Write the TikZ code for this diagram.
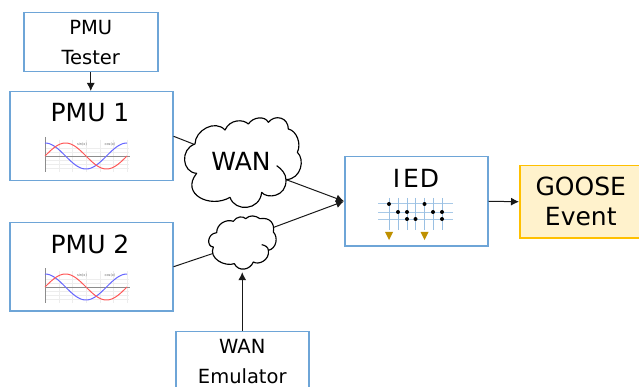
\documentclass[tikz,border=0pt]{standalone}
\usepackage{fontspec}
\setmainfont{DejaVu Sans}
\usetikzlibrary{arrows.meta}
\definecolor{boxblue}{RGB}{110,165,215}
\definecolor{goldb}{RGB}{255,192,0}
\definecolor{goldf}{RGB}{255,242,204}
\definecolor{tri}{RGB}{191,144,0}
\tikzset{
 bx/.style={draw=boxblue,line width=1.5pt,fill=white,inner sep=0pt,align=center},
 ln/.style={draw=black!90,line width=1pt},
 arr/.style={ln,-{Latex[length=8pt,width=8pt]}},
 cl/.style={draw=black,line width=1.15pt,fill=white,line join=round},
 small/.style={font=\fontsize{19.5}{30}\selectfont},
 big/.style={font=\fontsize{25}{30}\selectfont},
}
\newcommand{\chartat}[2]{%
 \begin{scope}[shift={(#1,#2)}]
  \foreach \gy in {-8,-4,4,8,12} \draw[black!7,line width=.4pt] (0,\gy)--(84,\gy);
  \foreach \gx in {14,27,41,55,68,82} \draw[black!7,line width=.4pt] (\gx,-16)--(\gx,16);
  \draw[black!45,line width=.5pt] (0,0)--(85,0) (0,-19)--(0,16);
  \draw[blue!60!white,line width=1pt,domain=0:82,samples=60,smooth] plot (\x,{-13*cos(\x/82*360)});
  \draw[red!65!white,line width=1pt,domain=0:82,samples=60,smooth] plot (\x,{-13*sin(\x/82*360)});
 \end{scope}}
\begin{document}
\begin{tikzpicture}[x=1pt,y=-1pt]
\useasboundingbox (0,0) rectangle (639,387);
\clip (0,0) rectangle (639,387);
\node[bx,small,minimum width=134pt,minimum height=59pt,anchor=north west] (tester) at (23,12) {PMU\\Tester};
\node[bx,minimum width=163pt,minimum height=89pt,anchor=north west] (pmu1) at (9,91) {};
\node[bx,minimum width=163pt,minimum height=88pt,anchor=north west] (pmu2) at (9,222) {};
\node[bx,minimum width=143pt,minimum height=89pt,anchor=north west] (ied) at (344,156) {};
\node[draw=goldb,fill=goldf,line width=1.5pt,inner sep=0pt,align=center,big,minimum width=122pt,minimum height=72pt,anchor=north west] (goose) at (519,165) {GOOSE\\Event};
\node[bx,small,minimum width=133pt,minimum height=60pt,anchor=north west] (emu) at (175,330.5) {WAN\\Emulator};
\node[big,inner sep=0pt] (pmu1t) at (90,113) {PMU 1};
\node[big,inner sep=0pt] (pmu2t) at (90,244) {PMU 2};
\node[big,inner sep=0pt] (iedt) at (416,178) {I\kern3pt E\kern1pt D};
\chartat{45}{156}
\chartat{45}{287}
\node[font=\fontsize{3.5}{4}\selectfont,text=black!60,inner sep=0pt] (sa) at (82,144.5) {sin(x)};
\node[font=\fontsize{3.5}{4}\selectfont,text=black!60,inner sep=0pt] (ca) at (110,144.5) {cos(x)};
\node[font=\fontsize{3.5}{4}\selectfont,text=black!60,inner sep=0pt] (sb) at (82,275.5) {sin(x)};
\node[font=\fontsize{3.5}{4}\selectfont,text=black!60,inner sep=0pt] (cb) at (110,275.5) {cos(x)};
% IED ladder
\draw[boxblue!60,line width=.7pt] (378,203)--(453,203) (378,212)--(453,212) (378,219)--(453,219);
\foreach \vx in {389,398,407,415.5,424.5,433,442} \draw[boxblue!70,line width=.7pt] (\vx,198)--(\vx,230);
\foreach \dx/\dy in {389/204,398/212,407/212,407/219,415.5/219,424.5/204,433/212,442/212,442/219} \fill (\dx,\dy) circle (2);
\foreach \tx in {389,424.5} \fill[tri] (\tx-4,232)--(\tx+4,232)--(\tx,240)--cycle;
% cloud anchors
\node[inner sep=0pt,minimum width=116pt,minimum height=91pt] (wan) at (243,163.5) {};
\node[inner sep=0pt,minimum width=67pt,minimum height=57pt] (lan) at (242.5,243.5) {};
\coordinate (lanr) at (245,238);
\draw[ln] (pmu1.east) -- (wan.center);
\draw[ln] (pmu2.east) -- (lan.center);
\draw[arr] (wan.center) -- (ied.west);
\draw[arr] (lanr) -- (ied.west);
\draw[arr] (tester.south) -- (tester.south |- pmu1.north);
\draw[arr] (emu.north) -- (emu.north |- lan.south);
\draw[arr] (ied.east) -- (goose.west);
\begin{scope}[shift={(180,114)},x=.3333pt,y=-.3333pt]
\draw[cl] (45,90) .. controls (45,50) and (105,15) .. (135,48)
 .. controls (150,15) and (190,15) .. (205,30)
 .. controls (220,8) and (255,5) .. (265,25)
 .. controls (285,0) and (325,10) .. (325,45)
 .. controls (350,50) and (365,90) .. (352,115)
 .. controls (375,135) and (365,195) .. (318,197)
 .. controls (320,250) and (260,255) .. (245,235)
 .. controls (240,290) and (165,295) .. (150,250)
 .. controls (90,285) and (0,240) .. (50,178)
 .. controls (5,175) and (0,105) .. (45,90) -- cycle;
\draw[cl,fill=none] (318,197) .. controls (318,180) and (305,165) .. (290,155);
\end{scope}
\node[big,inner sep=0pt] (want) at (241,161) {WAN};
\begin{scope}[shift={(205,212)},x=.3333pt,y=-.3333pt]
\draw[cl] (35,62) .. controls (35,35) and (65,20) .. (85,28)
 .. controls (95,12) and (115,12) .. (122,20)
 .. controls (135,8) and (150,10) .. (165,20)
 .. controls (195,15) and (210,35) .. (205,60)
 .. controls (220,75) and (215,110) .. (190,115)
 .. controls (195,145) and (160,160) .. (145,150)
 .. controls (135,175) and (100,180) .. (88,155)
 .. controls (60,165) and (10,140) .. (25,105)
 .. controls (5,105) and (5,65) .. (35,62) -- cycle;
\draw[cl,fill=none] (190,115) .. controls (190,105) and (180,100) .. (170,98);
\end{scope}
\end{tikzpicture}
\end{document}
